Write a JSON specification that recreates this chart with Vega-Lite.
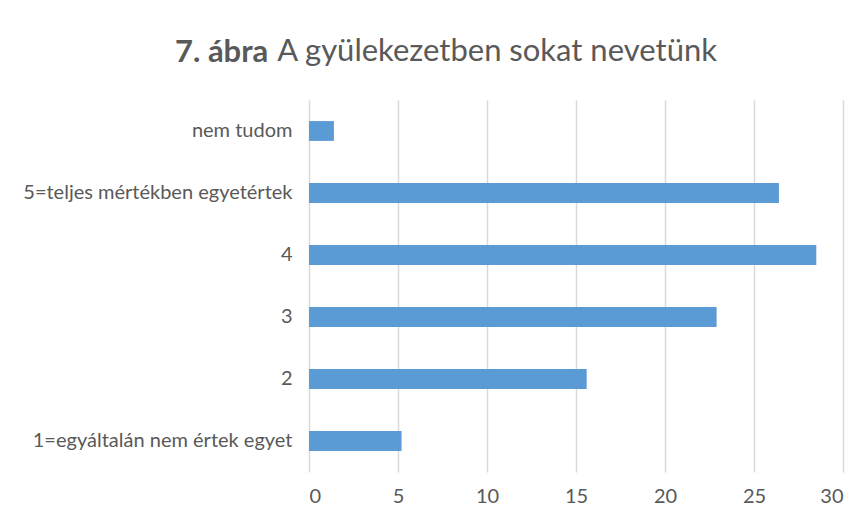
{
  "$schema": "https://vega.github.io/schema/vega-lite/v6.json",
  "autosize": {"type": "none"},
  "padding": {"left": 309, "top": 100, "right": 24, "bottom": 48},
  "width": 534,
  "height": 372,
  "background": "#ffffff",
  "title": {
    "text": "7. ábra",
    "subtitle": "\u200b\u00a0\u00a0\u00a0\u00a0\u00a0\u00a0\u00a0\u00a0\u00a0\u00a0\u00a0\u00a0\u00a0A gyülekezetben sokat nevetünk",
    "anchor": "start",
    "frame": "group",
    "dx": -134,
    "offset": 30,
    "font": "Lato",
    "fontSize": 31,
    "fontWeight": "bold",
    "color": "#595959",
    "subtitleFont": "Lato",
    "subtitleFontSize": 31,
    "subtitleFontWeight": "normal",
    "subtitleColor": "#595959",
    "subtitlePadding": -32
  },
  "data": {
    "values": [
      {"kategoria": "nem tudom", "ertek": 1.4},
      {"kategoria": "5=teljes mértékben egyetértek", "ertek": 26.4},
      {"kategoria": "4", "ertek": 28.5},
      {"kategoria": "3", "ertek": 22.9},
      {"kategoria": "2", "ertek": 15.6},
      {"kategoria": "1=egyáltalán nem értek egyet", "ertek": 5.2}
    ]
  },
  "mark": {"type": "bar", "color": "#5B9BD5"},
  "encoding": {
    "y": {
      "field": "kategoria",
      "type": "nominal",
      "sort": ["nem tudom", "5=teljes mértékben egyetértek", "4", "3", "2", "1=egyáltalán nem értek egyet"],
      "scale": {"paddingInner": 0.68, "paddingOuter": 0.34},
      "axis": {
        "title": null,
        "domain": false,
        "ticks": false,
        "labelPadding": 17,
        "labelFont": "Lato",
        "labelFontSize": 20,
        "labelColor": "#595959",
        "labelLimit": 400
      }
    },
    "x": {
      "field": "ertek",
      "type": "quantitative",
      "scale": {"domain": [0, 30], "nice": false},
      "axis": {
        "title": null,
        "values": [0, 5, 10, 15, 20, 25, 30],
        "domain": false,
        "ticks": false,
        "grid": true,
        "gridColor": "#D9D9D9",
        "gridWidth": 1.5,
        "labelPadding": 14,
        "labelFont": "Lato",
        "labelFontSize": 20,
        "labelColor": "#595959"
      }
    }
  },
  "config": {"view": {"stroke": null}}
}
